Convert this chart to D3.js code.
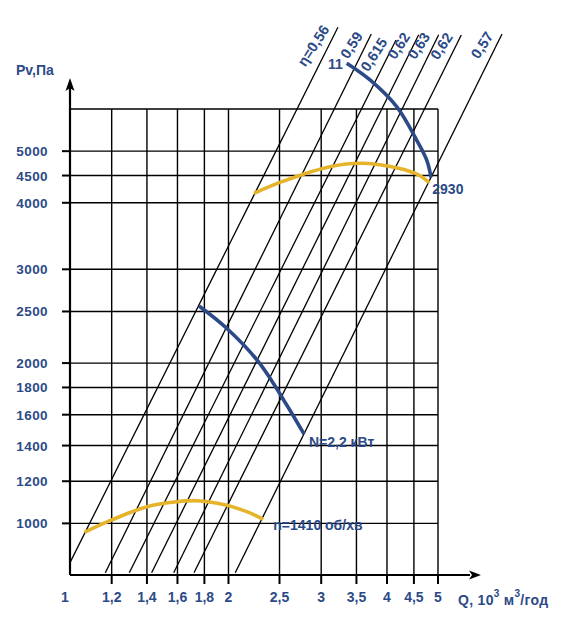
<!DOCTYPE html>
<html>
<head>
<meta charset="utf-8">
<script src="https://cdn.jsdelivr.net/npm/d3@7"></script>
<style>
  html, body { margin: 0; padding: 0; background: #fff; }
  svg { display: block; }
  text { font-family: "Liberation Sans", Arial, sans-serif; font-weight: bold; fill: #2c4a87; }
</style>
</head>
<body>
<svg id="chart" width="564" height="627"></svg>
<script>
// ---- data ----
const xTicks = [1, 1.2, 1.4, 1.6, 1.8, 2, 2.5, 3, 3.5, 4, 4.5, 5];
const xTickLabels = ["1", "1,2", "1,4", "1,6", "1,8", "2", "2,5", "3", "3,5", "4", "4,5", "5"];
const yTicks = [1000, 1200, 1400, 1600, 1800, 2000, 2500, 3000, 4000, 4500, 5000];
const yTickLabels = ["1000", "1200", "1400", "1600", "1800", "2000", "2500", "3000", "4000", "4500", "5000"];
const yGridTop = 6000;

// efficiency lines (Pv ~ Q^2): start / end points
const etaLabels = ["η=0,56", "0,59", "0,615", "0,62", "0,63", "0,62", "0,57"];
const etaQ0 = [1.0, 1.167, 1.296, 1.429, 1.574, 1.72, 2.06];
const etaP0 = [844, 808, 808, 808, 808, 808, 808];
const etaQ1 = [3.228, 3.735, 4.161, 4.595, 5.015, 5.536, 6.615];
const etaP1 = [8545, 8300, 8087, 8274, 8274, 8264, 8300];

// fan curves
const low1410Q = [1.065, 1.2, 1.4, 1.595, 1.74, 1.984, 2.166, 2.329];
const low1410P = [962, 1015, 1075, 1098, 1103, 1082, 1052, 1018];
const high2930Q = [2.236, 2.527, 3.118, 3.607, 4.21, 4.595, 4.813];
const high2930P = [4167, 4383, 4676, 4744, 4642, 4510, 4363];

// power limit curves
const powerLowQ = [1.758, 1.984, 2.279, 2.58, 2.782];
const powerLowP = [2560, 2325, 2012, 1669, 1472];
const powerHighQ = [3.354, 3.714, 4.173, 4.554, 4.758, 4.85];
const powerHighP = [7313, 6803, 6060, 5247, 4814, 4466];

// ---- drawing ----
const BLUE = "#2c4a87";
const GOLD = "#e5b42b";
const svg = d3.select("#chart");

const x = d3.scaleLog().domain([1, 5]).range([70, 438]);
const y = d3.scaleLog().domain([800, 6000]).range([575, 109]);

const g = svg.append("g");

// grid
g.selectAll(".vgrid").data(xTicks.slice(1)).enter().append("line")
  .attr("x1", d => x(d)).attr("x2", d => x(d))
  .attr("y1", y(800)).attr("y2", y(yGridTop))
  .attr("stroke", "#000").attr("stroke-width", 1.4);
g.selectAll(".hgrid").data(yTicks.concat([yGridTop])).enter().append("line")
  .attr("x1", x(1)).attr("x2", x(5))
  .attr("y1", d => y(d)).attr("y2", d => y(d))
  .attr("stroke", "#000").attr("stroke-width", 1.4);

// efficiency lines
const etaData = etaLabels.map((l, i) => ({ l, q0: etaQ0[i], p0: etaP0[i], q1: etaQ1[i], p1: etaP1[i] }));
g.selectAll(".eta").data(etaData).enter().append("line")
  .attr("x1", d => x(d.q0)).attr("y1", d => y(d.p0))
  .attr("x2", d => x(d.q1)).attr("y2", d => y(d.p1))
  .attr("stroke", "#000").attr("stroke-width", 1.3);
g.selectAll(".etaLabel").data(etaData).enter().append("text")
  .attr("transform", d => `translate(${x(d.q1) - 8},${y(d.p1) + 2}) rotate(-57)`)
  .attr("text-anchor", "end")
  .attr("font-size", 14.5)
  .text(d => d.l);

// curves
const curve = d3.line().x(d => x(d[0])).y(d => y(d[1])).curve(d3.curveCatmullRom);
function drawCurve(qs, ps, color) {
  g.append("path").datum(qs.map((q, i) => [q, ps[i]]))
    .attr("d", curve).attr("fill", "none")
    .attr("stroke", color).attr("stroke-width", 3.6).attr("stroke-linecap", "butt");
}
drawCurve(low1410Q, low1410P, GOLD);
drawCurve(high2930Q, high2930P, GOLD);
drawCurve(powerLowQ, powerLowP, BLUE);
drawCurve(powerHighQ, powerHighP, BLUE);

// axes
g.append("line").attr("x1", x(1)).attr("x2", 470).attr("y1", y(800)).attr("y2", y(800))
  .attr("stroke", "#000").attr("stroke-width", 2.2);
g.append("path").attr("d", `M481,${y(800)} L469,${y(800) - 4.5} L472,${y(800)} L469,${y(800) + 4.5} Z`).attr("fill", "#000");
g.append("line").attr("x1", x(1)).attr("x2", x(1)).attr("y1", y(800)).attr("y2", 88)
  .attr("stroke", "#000").attr("stroke-width", 2.2);
g.append("path").attr("d", `M${x(1)},78 L${x(1) - 4.5},91 L${x(1)},88 L${x(1) + 4.5},91 Z`).attr("fill", "#000");

// ticks
g.selectAll(".xt").data(xTicks.slice(1)).enter().append("line")
  .attr("x1", d => x(d)).attr("x2", d => x(d))
  .attr("y1", y(800)).attr("y2", y(800) + 9)
  .attr("stroke", "#000").attr("stroke-width", 2);
g.selectAll(".yt").data(yTicks).enter().append("line")
  .attr("x1", x(1) - 8).attr("x2", x(1))
  .attr("y1", d => y(d)).attr("y2", d => y(d))
  .attr("stroke", "#000").attr("stroke-width", 2);

// tick labels
g.selectAll(".xl").data(xTicks).enter().append("text")
  .attr("x", (d, i) => x(d) + (i === 0 ? -5 : 0)).attr("y", 602)
  .attr("text-anchor", "middle").attr("font-size", 14)
  .text((d, i) => xTickLabels[i]);
g.selectAll(".yl").data(yTicks).enter().append("text")
  .attr("x", 48).attr("y", d => y(d) + 5)
  .attr("text-anchor", "end").attr("font-size", 13.5)
  .attr("letter-spacing", 0.4)
  .text((d, i) => yTickLabels[i]);

// axis titles
svg.append("text").attr("x", 16).attr("y", 75).attr("font-size", 14).text("Pv,Па");
const xt = svg.append("text").attr("x", 458).attr("y", 605).attr("font-size", 14).attr("letter-spacing", 0.3);
xt.append("tspan").text("Q, 10");
xt.append("tspan").attr("font-size", 10).attr("dy", -8).text("3");
xt.append("tspan").attr("dy", 8).text(" м");
xt.append("tspan").attr("font-size", 10).attr("dy", -8).text("3");
xt.append("tspan").attr("dy", 8).text("/год");

// annotations
const hiB0 = [powerHighQ[0], powerHighP[0]];
svg.append("text").attr("x", x(hiB0[0]) - 4).attr("y", y(hiB0[1]) + 6)
  .attr("text-anchor", "end").attr("font-size", 14).text("11");
const hiY1 = [high2930Q[high2930Q.length - 1], high2930P[high2930P.length - 1]];
svg.append("text").attr("x", x(hiY1[0]) + 3).attr("y", y(hiY1[1]) + 11)
  .attr("font-size", 14).text("2930");
const loB1 = [powerLowQ[powerLowQ.length - 1], powerLowP[powerLowP.length - 1]];
svg.append("text").attr("x", x(loB1[0]) + 5).attr("y", y(loB1[1]) + 13)
  .attr("font-size", 14).text("N=2,2 кВт");
const loY1 = [low1410Q[low1410Q.length - 1], low1410P[low1410P.length - 1]];
svg.append("text").attr("x", x(loY1[0]) + 10).attr("y", y(loY1[1]) + 11)
  .attr("font-size", 14).text("n=1410 об/хв");
</script>
</body>
</html>
